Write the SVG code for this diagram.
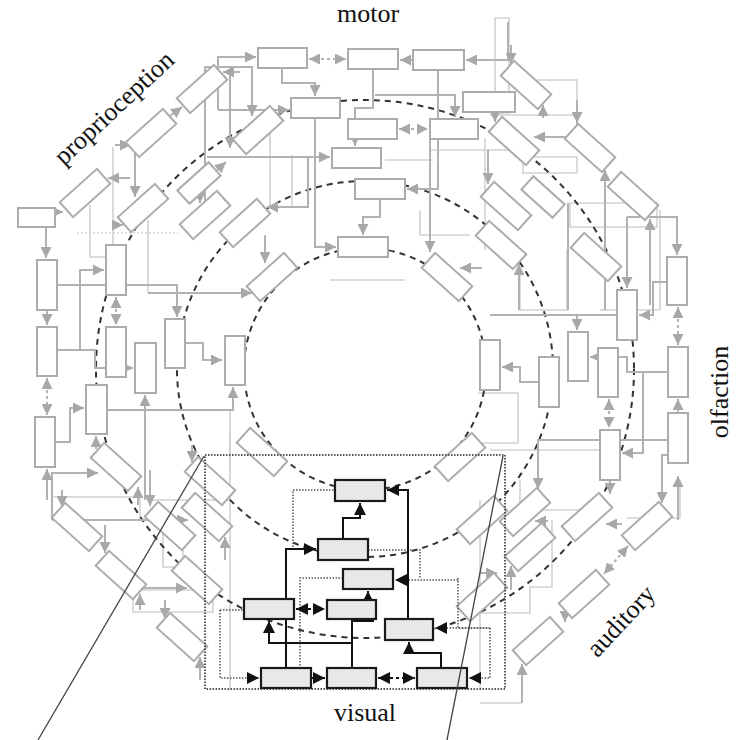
<svg xmlns="http://www.w3.org/2000/svg" width="738" height="740" viewBox="0 0 738 740">
<defs>
<marker id="ga" viewBox="0 0 10 10" refX="10" refY="5" markerWidth="11" markerHeight="11" markerUnits="userSpaceOnUse" orient="auto-start-reverse"><path d="M0,0 L10,5 L0,10 z" fill="#a8a8a8"/></marker>
<marker id="ba" viewBox="0 0 10 10" refX="10" refY="5" markerWidth="12" markerHeight="12" markerUnits="userSpaceOnUse" orient="auto-start-reverse"><path d="M0,0 L10,5 L0,10 z" fill="#111"/></marker>
</defs>
<style>
.lt{fill:none;stroke:#d2d2d2;stroke-width:1.6}
.gc path{fill:none;stroke:#b2b2b2;stroke-width:2;marker-end:url(#ga)}
.gc path.n{marker-end:none}
.gc path.dd{stroke-dasharray:3 3;marker-start:url(#ga)}
.gb rect{fill:#fff;stroke:#acacac;stroke-width:2}
.circ{fill:none;stroke:#333;stroke-width:2;stroke-dasharray:6 5}
.bc path{fill:none;stroke:#111;stroke-width:2;marker-end:url(#ba)}
.bc path.dd{stroke-dasharray:3 3;marker-start:url(#ba)}
.bc path.dt{stroke:#555;stroke-width:1.5;stroke-dasharray:1.5 1.5}
.bc path.n{marker-end:none}
.bb rect{fill:#e8e8e8;stroke:#1a1a1a;stroke-width:2.2}
.lbl{font-family:"Liberation Serif","Times New Roman",serif;font-size:26px;fill:#111}
</style>
<rect width="738" height="740" fill="#fff"/>

<!-- light background lines -->
<g id="light-lines">
<path class="lt" d="M495,18 H509 V113 H495 Z"/>
<path class="lt" d="M508,80 H577 V115 H490"/>
<path class="lt" d="M430,150 H508 M485,138 V250"/>
<path class="lt" d="M523,157 H577 V173 H523 Z"/>
<path class="lt" d="M570,203 H657 V227 H570 Z"/>
<path class="lt" d="M90,205 V257 H106 M113,147 V293 M148,220 V293"/>
<path class="lt" d="M77,233 H178" stroke-dasharray="2 2"/>
<path class="lt" d="M52,497 H140 V520"/>
<path class="lt" d="M133,590 H213 V612 H133 Z"/>
<path class="lt" d="M163,525 H183 V567 H163 Z"/>
<path class="lt" d="M520,480 V510 H580 M552,520 V587 H530 V613 H480"/>
<path class="lt" d="M490,450 H600 M480,703 H522 M680,480 V518 H627"/>
<path class="lt" d="M520,263 V310 H567 V250"/>
<path class="lt" d="M478,393 H518 V443 H478"/>
<path class="lt" d="M292,155 V207 M270,130 V207 M385,160 H433"/>
<path class="lt" d="M660,210 V310 M600,310 H660"/>
<path class="lt" d="M160,410 H230 V470 M150,500 H230"/>
<path class="lt" d="M230,430 V690 M480,500 V690"/>
<path class="lt" d="M420,210 V235 H470 M330,280 H405"/>
</g>

<!-- dashed rings -->
<g id="rings">
<circle class="circ" cx="365" cy="369" r="121"/>
<circle class="circ" cx="365" cy="369" r="188"/>
<circle class="circ" cx="365" cy="369" r="269"/>
</g>

<!-- gray connectors -->
<g id="connectors" class="gc">
<path class="dd" d="M309,59 H346"/>
<path d="M413,60 H400"/>
<path d="M508,22 V60 H466"/>
<path d="M511,45 V64"/>
<path d="M282,68 V83 H315 V96"/>
<path d="M373,69 V108 H355 V146"/>
<path class="dd" d="M399,129 H428"/>
<path d="M438,70 V189 H407"/>
<path d="M430,139 V252"/>
<path d="M380,199 V217 H363 V235"/>
<path d="M315,118 V247 H336"/>
<path d="M207,157 H330"/>
<path d="M308,157 V207 H267"/>
<path d="M375,95 H455 V117"/>
<path d="M218,110 V57 H256"/>
<path d="M218,110 H289"/>
<path d="M205,210 V67 H252 V116"/>
<path d="M230,67 V148"/>
<path d="M577,115 V137 H534"/>
<path d="M495,115 V122"/>
<path d="M577,100 V123"/>
<path d="M543,118 V105"/>
<path d="M605,310 V170"/>
<path d="M650,305 V219"/>
<path d="M627,217 H677 V255"/>
<path d="M627,217 V288"/>
<path d="M667,282 H653 V315 H639"/>
<path class="dd" d="M678,307 V345"/>
<path d="M488,150 V184"/>
<path d="M519,310 V264"/>
<path d="M482,268 H460"/>
<path class="n" d="M568,203 V310"/>
<path class="n" d="M490,315 H617"/>
<path d="M577,315 V330"/>
<path d="M668,372 H627 V357 H590"/>
<path d="M538,382 H520 V367 H502"/>
<path class="dd" d="M609,399 V428"/>
<path d="M678,413 V399"/>
<path d="M678,520 V476"/>
<path d="M668,440 H538 V489"/>
<path d="M643,372 V453 H622"/>
<path d="M610,480 V494"/>
<path d="M668,455 H662 V503"/>
<path d="M622,524 H606"/>
<path class="dd" d="M628,546 L604,574"/>
<path d="M565,612 V622"/>
<path d="M522,703 V664"/>
<path d="M511,590 V566"/>
<path d="M480,573 H497"/>
<path d="M548,521 H535"/>
<path d="M46,228 V258"/>
<path d="M47,310 V325"/>
<path class="dd" d="M47,378 V415"/>
<path class="dd" d="M116,297 V325"/>
<path d="M57,285 H177 V317"/>
<path d="M57,350 H80 V270 H104"/>
<path d="M57,350 H95 V368 H133"/>
<path d="M185,343 H203 V360 H222"/>
<path d="M55,442 H70 V408 H84"/>
<path d="M107,410 H233 V387"/>
<path d="M145,500 V395"/>
<path d="M148,293 H252"/>
<path d="M45,212 H63"/>
<path d="M130,178 H108"/>
<path d="M115,145 H131"/>
<path d="M170,116 L182,107"/>
<path d="M240,72 H223"/>
<path d="M135,145 V197"/>
<path d="M113,225 H123"/>
<path d="M200,175 V203"/>
<path d="M216,171 L226,162"/>
<path d="M265,235 V263"/>
<path d="M96,449 V436"/>
<path d="M52,520 V473 H98"/>
<path d="M47,500 V469"/>
<path d="M138,505 V487"/>
<path d="M52,520 H188"/>
<path d="M150,470 V506"/>
<path d="M192,445 V462"/>
<path d="M225,560 V537"/>
<path d="M105,525 V553"/>
<path d="M140,610 V594"/>
<path d="M140,588 H187"/>
<path d="M165,600 V619"/>
<path d="M200,680 V657"/>
<path d="M62,490 V507"/>
</g>

<!-- gray nodes -->
<g class="gb">
<g id="t1"><rect x="258" y="48" width="49" height="20"/></g>
<g id="t2"><rect x="348" y="49" width="50" height="20"/></g>
<g id="t3"><rect x="413" y="50" width="51" height="20"/></g>
<g id="t4"><rect x="291" y="98" width="49" height="20"/></g>
<g id="t5"><rect x="463" y="92" width="52" height="20"/></g>
<g id="t6"><rect x="348" y="119" width="49" height="20"/></g>
<g id="t7"><rect x="430" y="119" width="48" height="20"/></g>
<g id="t8"><rect x="332" y="148" width="49" height="20"/></g>
<g id="t9"><rect x="355" y="179" width="50" height="20"/></g>
<g id="t10"><rect x="338" y="237" width="50" height="20"/></g>
<g id="h1"><rect x="18" y="208" width="37" height="19"/></g>

<g id="vl1"><rect x="37" y="260" width="20" height="50"/></g>
<g id="vl2"><rect x="37" y="327" width="20" height="49"/></g>
<g id="vl3"><rect x="35" y="417" width="20" height="50"/></g>
<g id="vl4"><rect x="106" y="327" width="20" height="50"/></g>
<g id="vl5"><rect x="106" y="245" width="20" height="50"/></g>
<g id="vl6"><rect x="135" y="343" width="21" height="50"/></g>
<g id="vl7"><rect x="165" y="319" width="20" height="49"/></g>
<g id="vl8"><rect x="225" y="336" width="20" height="49"/></g>
<g id="vl9"><rect x="86" y="385" width="21" height="49"/></g>

<g id="vr1"><rect x="667" y="257" width="20" height="48"/></g>
<g id="vr2"><rect x="617" y="290" width="20" height="50"/></g>
<g id="vr3"><rect x="668" y="347" width="20" height="50"/></g>
<g id="vr4"><rect x="668" y="413" width="20" height="50"/></g>
<g id="vr5"><rect x="568" y="332" width="20" height="49"/></g>
<g id="vr6"><rect x="598" y="348" width="20" height="49"/></g>
<g id="vr7"><rect x="539" y="357" width="20" height="50"/></g>
<g id="vr8"><rect x="600" y="430" width="20" height="50"/></g>
<g id="vr9"><rect x="480" y="340" width="20" height="50"/></g>

<g id="d1" transform="translate(526,85) rotate(42)"><rect x="-25" y="-10" width="50" height="20"/></g>
<g id="d2" transform="translate(514,141) rotate(42)"><rect x="-25" y="-10" width="50" height="20"/></g>
<g id="d3" transform="translate(590,148) rotate(42)"><rect x="-25" y="-10" width="50" height="20"/></g>
<g id="d4" transform="translate(633,196) rotate(42)"><rect x="-25" y="-10" width="50" height="20"/></g>
<g id="d5" transform="translate(506,206) rotate(42)"><rect x="-25" y="-10" width="50" height="20"/></g>
<g id="d7" transform="translate(543,197) rotate(42)"><rect x="-21" y="-9" width="42" height="18"/></g>
<g id="d6" transform="translate(501,245) rotate(42)"><rect x="-25" y="-10" width="50" height="20"/></g>
<g id="d8" transform="translate(596,257) rotate(42)"><rect x="-25" y="-10" width="50" height="20"/></g>
<g id="d9" transform="translate(447,277) rotate(42)"><rect x="-25" y="-10" width="50" height="20"/></g>

<g id="dl1" transform="translate(116,467) rotate(42)"><rect x="-25" y="-10" width="50" height="20"/></g>
<g id="dl2" transform="translate(77,527) rotate(42)"><rect x="-25" y="-10" width="50" height="20"/></g>
<g id="dl3" transform="translate(170,526) rotate(42)"><rect x="-25" y="-10" width="50" height="20"/></g>
<g id="dl4" transform="translate(207,517) rotate(42)"><rect x="-25" y="-10" width="50" height="20"/></g>
<g id="dl5" transform="translate(210,481) rotate(42)"><rect x="-25" y="-10" width="50" height="20"/></g>
<g id="dl6" transform="translate(121,575) rotate(42)"><rect x="-25" y="-10" width="50" height="20"/></g>
<g id="dl7" transform="translate(182,637) rotate(42)"><rect x="-25" y="-10" width="50" height="20"/></g>
<g id="dl8" transform="translate(262,452) rotate(42)"><rect x="-25" y="-10" width="50" height="20"/></g>
<g id="dl9" transform="translate(197,580) rotate(42)"><rect x="-25" y="-10" width="50" height="20"/></g>

<g id="dp1" transform="translate(85,193) rotate(-42)"><rect x="-25" y="-10" width="50" height="20"/></g>
<g id="dp2" transform="translate(143,208) rotate(-42)"><rect x="-25" y="-10" width="50" height="20"/></g>
<g id="dp3" transform="translate(151,133) rotate(-42)"><rect x="-25" y="-10" width="50" height="20"/></g>
<g id="dp4" transform="translate(202,89) rotate(-42)"><rect x="-25" y="-10" width="50" height="20"/></g>
<g id="dp5" transform="translate(258,130) rotate(-42)"><rect x="-25" y="-10" width="50" height="20"/></g>
<g id="dp6" transform="translate(205,215) rotate(-42)"><rect x="-25" y="-10" width="50" height="20"/></g>
<g id="dp7" transform="translate(245,223) rotate(-42)"><rect x="-25" y="-10" width="50" height="20"/></g>
<g id="dp8" transform="translate(199,183) rotate(-42)"><rect x="-21" y="-9" width="42" height="18"/></g>
<g id="dp9" transform="translate(272,277) rotate(-42)"><rect x="-25" y="-10" width="50" height="20"/></g>

<g id="dr1" transform="translate(587,517) rotate(-42)"><rect x="-25" y="-10" width="50" height="20"/></g>
<g id="dr2" transform="translate(647,526) rotate(-42)"><rect x="-25" y="-10" width="50" height="20"/></g>
<g id="dr3" transform="translate(525,512) rotate(-42)"><rect x="-25" y="-10" width="50" height="20"/></g>
<g id="dr4" transform="translate(584,594) rotate(-42)"><rect x="-25" y="-10" width="50" height="20"/></g>
<g id="dr5" transform="translate(538,641) rotate(-42)"><rect x="-25" y="-10" width="50" height="20"/></g>
<g id="dr6" transform="translate(530,547) rotate(-42)"><rect x="-25" y="-10" width="50" height="20"/></g>
<g id="dr7" transform="translate(482,597) rotate(-42)"><rect x="-25" y="-10" width="50" height="20"/></g>
<g id="dr8" transform="translate(482,520) rotate(-42)"><rect x="-25" y="-10" width="50" height="20"/></g>
<g id="dr9" transform="translate(460,457) rotate(-42)"><rect x="-25" y="-10" width="50" height="20"/></g>
</g>

<!-- visual inset -->
<rect id="inset-frame" x="205" y="455" width="300" height="234" fill="none" stroke="#555" stroke-width="2" stroke-dasharray="1.5 1.5"/>
<g id="inset-connectors" class="bc">
<path class="dt n" d="M293,550 V490 H335"/>
<path class="dt n" d="M368,550 H420 V578"/>
<path class="dt n" d="M343,578 H300 V680"/>
<path class="dt n" d="M220,610 H244"/>
<path class="dt" d="M220,610 V678 H259"/>
<path class="dt n" d="M458,578 V628 H490"/>
<path class="dt" d="M458,580 H395"/>
<path class="dt" d="M490,628 V678 H469"/>
<path class="dt" d="M490,628 H435"/>
<path d="M343,539 V518 H360 V503"/>
<path d="M286,668 V549 H316"/>
<path d="M408,619 V490 H387"/>
<path d="M352,668 V643 H269 V621"/>
<path d="M352,643 V621 H373 V600 H368 V591"/>
<path d="M441,668 V653 H409 V642"/>
<path class="dd" d="M296,609 H325"/>
<path class="dd" d="M378,678 H415"/>
<path d="M311,678 H325"/>
</g>
<g class="bb">
<g id="b1"><rect x="335" y="480" width="50" height="21"/></g>
<g id="b2"><rect x="318" y="539" width="50" height="21"/></g>
<g id="b3"><rect x="343" y="569" width="50" height="20"/></g>
<g id="b4"><rect x="244" y="599" width="50" height="20"/></g>
<g id="b5"><rect x="327" y="600" width="49" height="19"/></g>
<g id="b6"><rect x="385" y="619" width="48" height="21"/></g>
<g id="b7"><rect x="261" y="668" width="50" height="20"/></g>
<g id="b8"><rect x="327" y="668" width="49" height="20"/></g>
<g id="b9"><rect x="417" y="668" width="50" height="20"/></g>
</g>

<!-- zoom lines -->
<g id="zoom-lines" stroke="#444" stroke-width="1.3">
<line x1="38" y1="740" x2="204" y2="456"/>
<line x1="447" y1="740" x2="503" y2="456"/>
</g>

<!-- labels -->
<text class="lbl" x="368" y="22" text-anchor="middle">motor</text>
<text class="lbl" text-anchor="middle" transform="translate(115,109) rotate(-43)" y="7">proprioception</text>
<text class="lbl" text-anchor="middle" transform="translate(728,392) rotate(-90)">olfaction</text>
<text class="lbl" text-anchor="middle" transform="translate(622,622) rotate(-47)" y="7">auditory</text>
<text class="lbl" x="365" y="721" text-anchor="middle">visual</text>
</svg>
